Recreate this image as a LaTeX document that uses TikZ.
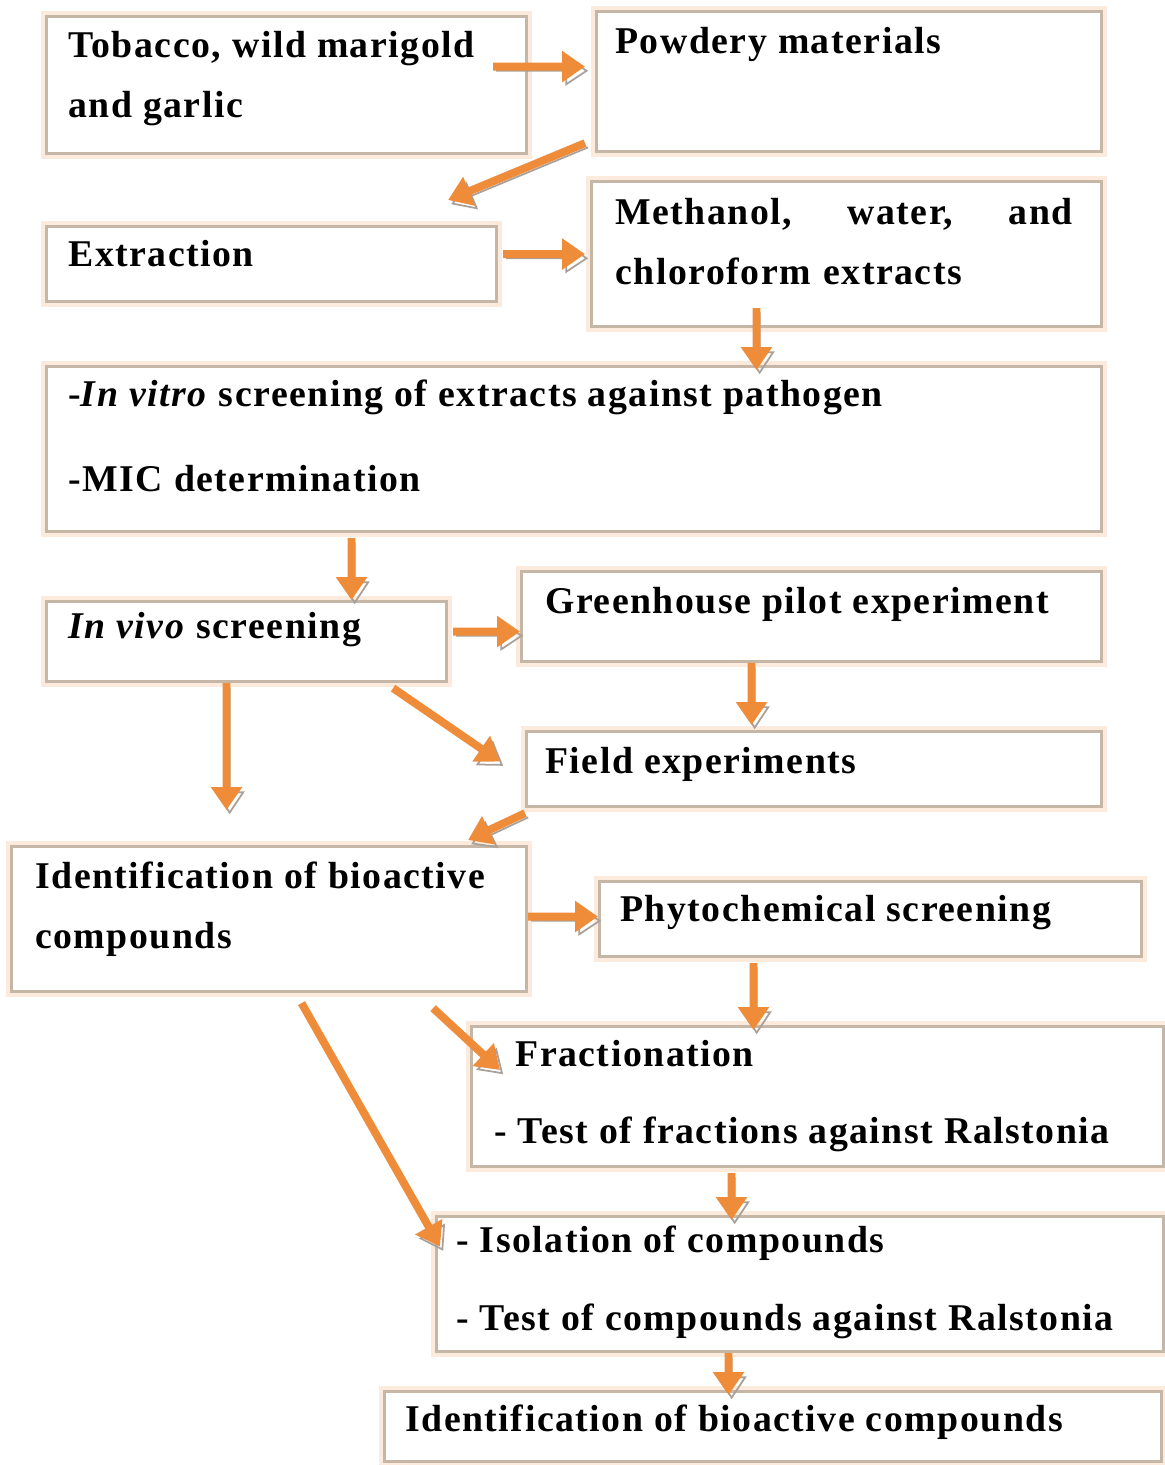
\documentclass[tikz,border=0pt]{standalone}
\usepackage{fontspec}
\setmainfont{Liberation Serif}[LetterSpace=4]
\usetikzlibrary{arrows.meta}
\definecolor{boxline}{HTML}{C6B6A6}
\definecolor{glow}{HTML}{FCEBDD}
\definecolor{arrorange}{HTML}{EE8C3A}
\definecolor{arrshadow}{HTML}{A8A09A}
\begin{document}
\begin{tikzpicture}[
      x=0.02cm, y=-0.02cm,
      box/.style={draw=boxline, line width=1.8pt, fill=white, anchor=north west, inner sep=0pt,
        preaction={draw=glow, line width=6pt}},
      txt/.style={anchor=north west, inner sep=0pt, align=left,
        font=\fontsize{21.5}{34}\selectfont\bfseries},
      flow/.style={draw=arrorange, line width=4.5pt, -{Triangle[length=13pt, width=17pt]},
        preaction={draw=arrshadow, line width=1pt, -{Triangle[open, length=13pt, width=17pt]},
          transform canvas={shift={(1.8pt,-2.4pt)}}}},
    ]
    \useasboundingbox (0,0) rectangle (1164,1465);

    % boxes
    \node[box, minimum width=9.6cm, minimum height=2.74cm] (tob) at (45,15) {};
    \node[box, minimum width=10.1cm, minimum height=2.8cm] (pow) at (595,10) {};
    \node[box, minimum width=9.0cm, minimum height=1.5cm] (ext) at (45,225) {};
    \node[box, minimum width=10.2cm, minimum height=2.9cm] (meth) at (590,180) {};
    \node[box, minimum width=21.1cm, minimum height=3.3cm] (vitro) at (45,365) {};
    \node[box, minimum width=8.0cm, minimum height=1.6cm] (vivo) at (45,600) {};
    \node[box, minimum width=11.6cm, minimum height=1.8cm] (green) at (520,570) {};
    \node[box, minimum width=11.5cm, minimum height=1.5cm] (field) at (525,730) {};
    \node[box, minimum width=10.3cm, minimum height=2.9cm] (ident) at (10,845) {};
    \node[box, minimum width=10.84cm, minimum height=1.5cm] (phyto) at (598,880) {};
    \node[box, minimum width=13.84cm, minimum height=2.8cm] (frac) at (470,1025) {};
    \node[box, minimum width=14.54cm, minimum height=2.7cm] (isol) at (435,1215) {};
    \node[box, minimum width=15.54cm, minimum height=1.4cm] (final) at (383,1390) {};

    % texts
    \node[txt] (tobT) at (68,31) {Tobacco, wild marigold\\and garlic};
    \node[txt] (powT) at (615,27) {Powdery materials};
    \node[txt] (extT) at (68,240) {Extraction};
    \node[txt, text width=9.15cm] (methT) at (615,198) {Methanol,\hfill water,\hfill and\\chloroform extracts};
    \node[txt] (vitroT) at (68,380) {-\textit{In vitro} screening of extracts against pathogen\\[14pt]-MIC determination};
    \node[txt] (vivoT) at (68,612) {\textit{In vivo} screening};
    \node[txt] (greenT) at (545,587) {Greenhouse pilot experiment};
    \node[txt] (fieldT) at (545,747) {Field experiments};
    \node[txt] (identT) at (35,862) {Identification of bioactive\\compounds};
    \node[txt] (phytoT) at (620,895) {Phytochemical screening};
    \node[txt] (fracT) at (494,1040) {\hspace{12pt}Fractionation\\[10pt]- Test of fractions against Ralstonia};
    \node[txt] (isolT) at (456,1226) {- Isolation of compounds\\[10pt]- Test of compounds against Ralstonia};
    \node[txt] (finalT) at (405,1405) {Identification of bioactive compounds};

    % arrows
    \draw[flow] ([shift={(-35,-18.5)}]tob.east) -- ([shift={(-10,-15)}]pow.west);
    \draw[flow] ([shift={(-10,-10)}]pow.south west) -- ([shift={(-50,-25)}]ext.north east);
    \draw[flow] ([shift={(5,-10)}]ext.east) -- ([shift={(-5,0)}]meth.west);
    \draw[flow] ([shift={(-90,-20)}]meth.south) -- ([shift={(182.5,5)}]vitro.north);
    \draw[flow] ([shift={(-222.5,5)}]vitro.south) -- ([shift={(105,0)}]vivo.north);
    \draw[flow] ([shift={(5,-10)}]vivo.east) -- ([shift={(0,15)}]green.west);
    \draw[flow] ([shift={(-60,0)}]green.south) -- ([shift={(-62.5,-5)}]field.north);
    \draw[flow] ([shift={(-55,5)}]vivo.south east) -- ([shift={(-25,-7.5)}]field.west);
    \draw[flow] ([shift={(-20,0)}]vivo.south) -- ([shift={(-42.5,-35)}]ident.north);
    \draw[flow] ([shift={(0,5)}]field.south west) -- ([shift={(-60,-5)}]ident.north east);
    \draw[flow] ([shift={(0,-2.5)}]ident.east) -- ([shift={(0,-2.5)}]phyto.west);
    \draw[flow] ([shift={(-117,5)}]phyto.south) -- ([shift={(-64,5)}]frac.north);
    \draw[flow] ([shift={(-95,15)}]ident.south east) -- ([shift={(30,45)}]frac.north west);
    \draw[flow] ([shift={(32.5,10)}]ident.south) -- ([shift={(5,-37.5)}]isol.west);
    \draw[flow] ([shift={(-86,5)}]frac.south) -- ([shift={(-68.5,5)}]isol.north);
    \draw[flow] ([shift={(-71.5,0)}]isol.south) -- ([shift={(-44.5,5)}]final.north);

\end{tikzpicture}
\end{document}
